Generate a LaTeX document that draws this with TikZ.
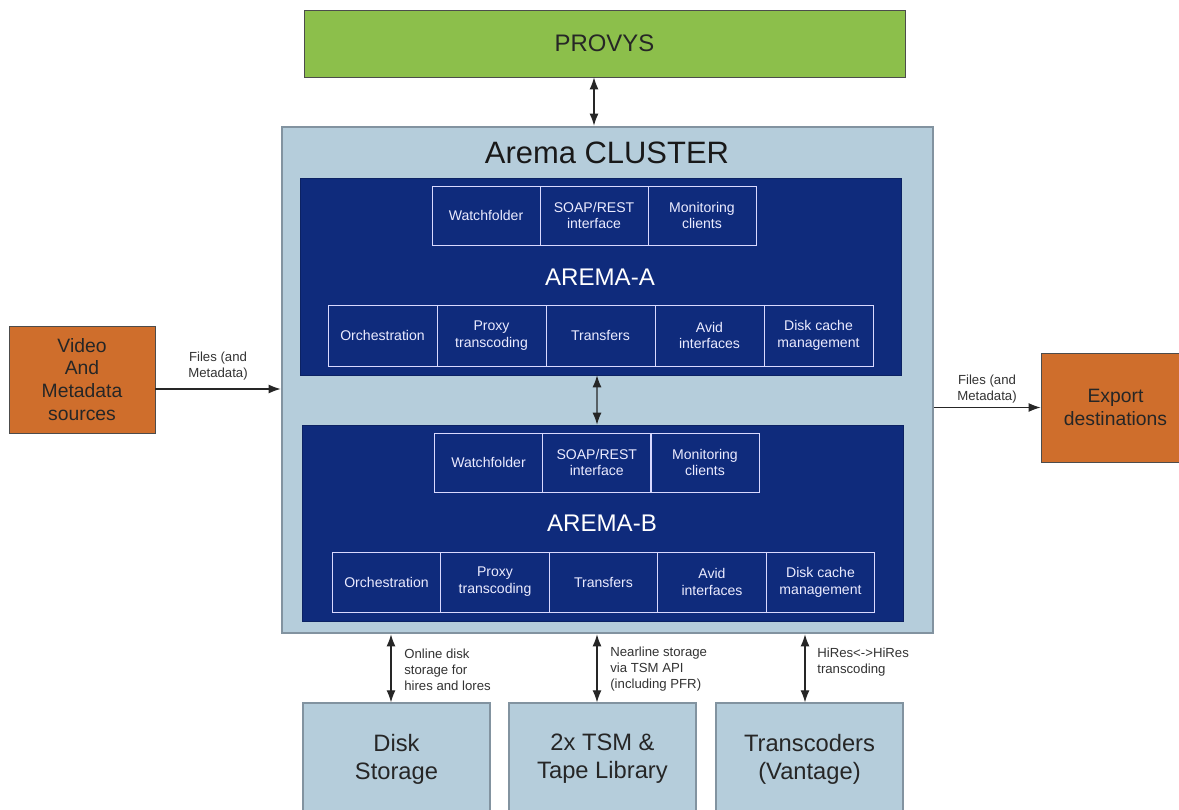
\documentclass[tikz,border=0pt]{standalone}
\usepackage{fontspec}
\setmainfont{Liberation Sans}
\usepackage{xcolor}
\usetikzlibrary{arrows.meta}
\definecolor{provysgreen}{HTML}{8CBF4B}
\definecolor{srcorange}{HTML}{CF6E2C}
\definecolor{clusterblue}{HTML}{B5CDDB}
\definecolor{clusteredge}{HTML}{8293A0}
\definecolor{aremanavy}{HTML}{0F2B7C}
\definecolor{labelgray}{HTML}{333333}

\begin{document}
\begin{tikzpicture}[
		>={Latex[length=2.4mm,width=1.8mm]},
		link/.style = {draw=black!85, line width=0.6pt},
		bigbox/.style = {draw=black!70, line width=0.5pt, inner sep=0pt, align=center, text=black!85},
		aremabox/.style = {fill=aremanavy, draw=aremanavy!80!black, inner sep=0pt, minimum width=12.02cm},
		cellbox/.style = {draw=white!85!blue, line width=0.5pt, minimum width=2.16cm, inner sep=1pt, align=center, text=white!92!blue, font=\fontsize{8}{9.6}\selectfont},
		flowlabel/.style = {align=left, text=labelgray, inner sep=0pt, font=\fontsize{7.5}{9}\selectfont}
	]
		\useasboundingbox (0,0) rectangle (23.58,-16.2);
		\fill[white] (0,0) rectangle (23.58,-16.2);

		\node[bigbox, fill=provysgreen, minimum width=12.02cm, minimum height=1.34cm, font=\fontsize{13.6}{16}\selectfont] (provys) at (12.09,-0.87) {PROVYS};

		\node[fill=clusterblue, draw=clusteredge, line width=1.6pt, minimum width=13.02cm, minimum height=10.12cm, inner sep=0pt] (cluster) at (12.15,-7.6) {};
		\node[font=\fontsize{17.6}{20}\selectfont, text=black!90] (clustertitle) at (12.14,-3.06) {Arema CLUSTER};

		\node[aremabox, minimum height=3.94cm] (aremaA) at (12.01,-5.53) {};
		\foreach \t [count=\i] in {Watchfolder, {SOAP/REST\\interface}, {Monitoring\\clients}}
			\node[cellbox, minimum height=1.18cm] (aT\i) at ({9.72+2.16*(\i-1)},-4.31) {\t};
		\node[text=white, font=\fontsize{13.7}{16}\selectfont] (aremaAlabel) at (12.0,-5.54) {AREMA-A};
		\foreach \t [count=\i] in {Orchestration, {Proxy\\transcoding}, Transfers, {Avid\\interfaces}, {Disk cache\\management}}
			\node[cellbox, minimum width=2.18cm, minimum height=1.22cm] (aB\i) at ({7.65+2.18*(\i-1)},-6.71) {\t};

		\node[aremabox, minimum height=3.92cm] (aremaB) at (12.05,-10.46) {};
		\foreach \t [count=\i] in {Watchfolder, {SOAP/REST\\interface}, {Monitoring\\clients}}
			\node[cellbox, minimum height=1.18cm] (bT\i) at ({9.77+2.165*(\i-1)},-9.25) {\t};
		\node[text=white, font=\fontsize{13.7}{16}\selectfont] (aremaBlabel) at (12.04,-10.46) {AREMA-B};
		\foreach \t [count=\i] in {Orchestration, {Proxy\\transcoding}, Transfers, {Avid\\interfaces}, {Disk cache\\management}}
			\node[cellbox, minimum width=2.17cm, minimum height=1.2cm] (bB\i) at ({7.73+2.17*(\i-1)},-11.64) {\t};

		\node[bigbox, fill=srcorange, minimum width=2.92cm, minimum height=2.14cm, font=\fontsize{11}{13}\selectfont] (video) at (1.64,-7.59) {Video\\And\\Metadata\\sources};
		\node[bigbox, fill=srcorange, minimum width=2.98cm, minimum height=2.18cm, font=\fontsize{11}{13}\selectfont] (export) at (22.31,-8.15) {Export\\destinations};

		\node[bigbox, fill=clusterblue, draw=clusteredge, line width=0.8pt, minimum width=3.74cm, minimum height=2.24cm, font=\fontsize{13.5}{16}\selectfont] (disk) at (7.93,-15.18) {Disk\\Storage};
		\node[bigbox, fill=clusterblue, draw=clusteredge, line width=0.8pt, minimum width=3.74cm, minimum height=2.24cm, font=\fontsize{13.5}{16}\selectfont] (tsm) at (12.05,-15.18) {2x TSM \&\\Tape Library};
		\node[bigbox, fill=clusterblue, draw=clusteredge, line width=0.8pt, minimum width=3.74cm, minimum height=2.24cm, font=\fontsize{13.5}{16}\selectfont] (trans) at (16.19,-15.18) {Transcoders\\(Vantage)};

		\draw[link, <->] ([xshift=-0.21cm]provys.south) -- ([xshift=-0.27cm]cluster.north);
		\draw[link, <->] ([xshift=-0.07cm]aremaA.south) -- ([xshift=-0.11cm]aremaB.north);

		\coordinate (vin) at ([yshift=-0.19cm]video.east);
		\draw[link, ->] (vin) -- (vin -| cluster.west);
		\node[flowlabel, align=center] (vinlabel) at (4.36,-7.32) {Files (and\\Metadata)};

		\draw[link, ->] (export.west -| cluster.east) -- (export.west);
		\node[flowlabel, align=center] (exlabel) at (19.74,-7.78) {Files (and\\Metadata)};

		\coordinate (dtop) at ([xshift=-0.11cm]disk.north);
		\coordinate (ttop) at ([xshift=-0.11cm]tsm.north);
		\coordinate (vtop) at ([xshift=-0.09cm]trans.north);
		\draw[link, <->] (dtop |- cluster.south) -- (dtop);
		\draw[link, <->] (ttop |- cluster.south) -- (ttop);
		\draw[link, <->] (vtop |- cluster.south) -- (vtop);
		\node[flowlabel, anchor=west] (dlabel) at (8.08,-13.4) {Online disk\\storage for\\hires and lores};
		\node[flowlabel, anchor=west] (tlabel) at (12.2,-13.38) {Nearline storage\\via TSM API\\(including PFR)};
		\node[flowlabel, anchor=west] (vlabel) at (16.34,-13.24) {HiRes<->HiRes\\transcoding};
	\end{tikzpicture}
\end{document}
